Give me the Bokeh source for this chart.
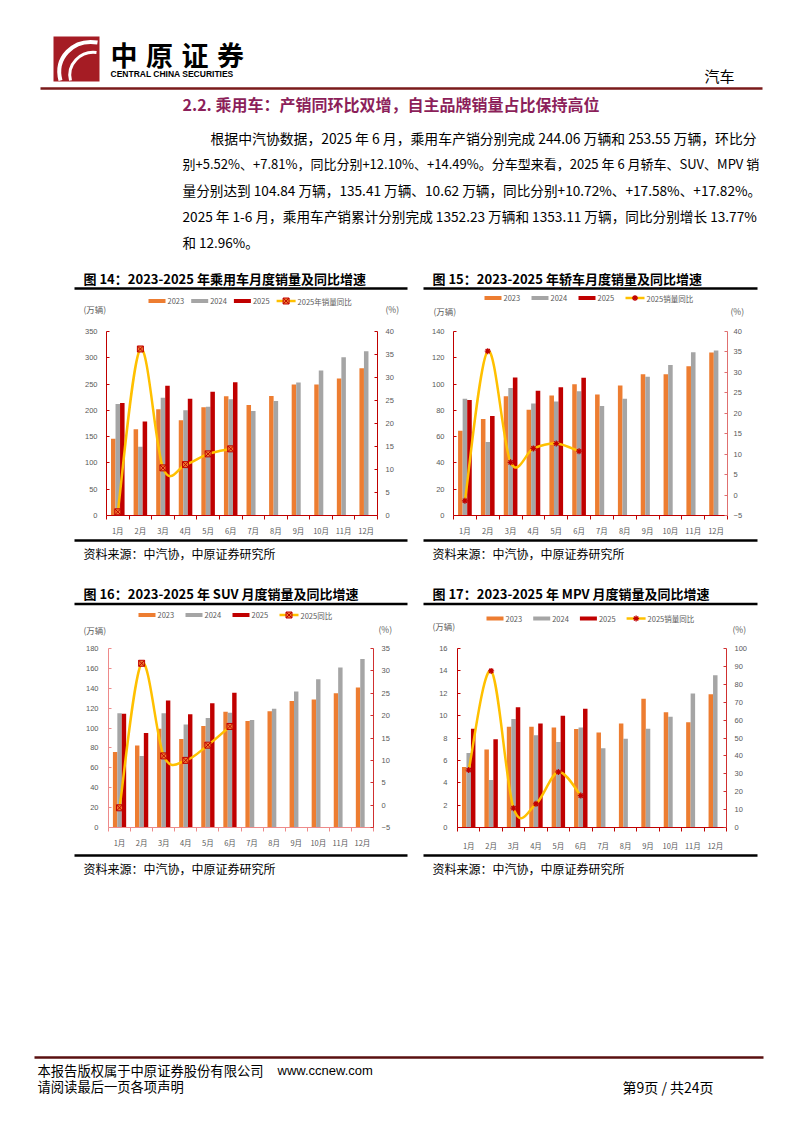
from bokeh.plotting import figure
from bokeh.layouts import column, row
from bokeh.models import Range1d, LinearAxis, FixedTicker, Spacer
from bokeh.transform import dodge
from bokeh.core.properties import value
from bokeh.embed import file_html
from bokeh.resources import INLINE

# ---------------- data ----------------
MONTHS = ["1月", "2月", "3月", "4月", "5月", "6月", "7月", "8月", "9月", "10月", "11月", "12月"]
MONTH_IDX = list(range(1, 13))
MONTH_IDX_2025 = MONTH_IDX[:6]
SERIES = ["2023", "2024", "2025"]

# 图14 乘用车 (万辆, %)
PV_2023 = [146, 164, 202, 181, 206, 227, 210, 227.5, 249, 249, 260.5, 280]
PV_2024 = [212, 131, 224, 200, 207, 221, 199, 218, 253, 276, 301, 312.5]
PV_2025 = [214, 179, 247, 222, 235.5, 253.6]
PV_YOY = [0.8, 36.2, 10.35, 11.06, 13.4, 14.49]

# 图15 轿车
CAR_2023 = [64.5, 73.5, 90.8, 80.5, 91.3, 99.8, 92, 99, 107.5, 107.5, 113.5, 124]
CAR_2024 = [88.8, 56, 97, 85.3, 86.8, 94.5, 83.3, 88.8, 105.5, 114.5, 124.3, 125.5]
CAR_2025 = [87.8, 75.8, 105, 95, 97.5, 104.84]
CAR_YOY = [-1.4, 35.2, 8.0, 11.4, 12.6, 10.72]

# 图16 SUV
SUV_2023 = [75.9, 82.5, 99.3, 89, 102, 116.4, 107.2, 117, 127.3, 128.6, 134.9, 140.8]
SUV_2024 = [115, 72, 115, 103.6, 110.2, 115.5, 108, 119.4, 136.8, 149, 160.9, 169.4]
SUV_2025 = [114.5, 95, 127.6, 114, 125, 135.41]
SUV_YOY = [-0.6, 31.7, 11.0, 10.0, 13.4, 17.58]

# 图17 MPV
MPV_2023 = [5.41, 6.97, 9.0, 9.0, 8.94, 8.8, 8.5, 9.29, 11.5, 10.3, 9.41, 11.9]
MPV_2024 = [6.65, 4.24, 9.7, 8.24, 7.65, 8.94, 7.09, 7.94, 8.82, 9.9, 11.97, 13.6]
MPV_2025 = [8.82, 7.88, 10.75, 9.29, 10.0, 10.62]
MPV_YOY = [32.1, 87.5, 10.8, 13.2, 31.0, 17.82]

C23, C24, C25, CLINE = "#ED7D31", "#A5A5A5", "#C00000", "#FFC000"
CJK_S = "Noto Sans CJK SC"
LAT_S = "Liberation Sans"
CJK = value(CJK_S)
LAT = value(LAT_S)
GRAY = "#595959"
PAGE_W = 794


def page_fig(y0, y1):
    p = figure(width=PAGE_W, height=y1 - y0, x_range=Range1d(0, PAGE_W), y_range=Range1d(y1, y0),
               output_backend="svg", toolbar_location=None, min_border=0,
               x_axis_type=None, y_axis_type=None)
    p.outline_line_color = None
    p.background_fill_color = None
    p.border_fill_color = "white"
    return p


def txt(p, x, y, s, size, color="black", bold=False, font=CJK, align="left"):
    p.text(x=[x], y=[y], text=[s], text_font=font, text_font_size=size, text_color=color,
           text_font_style="bold" if bold else "normal", text_baseline="middle", text_align=align)


def hline(p, x0, x1, y, color="black", w=2.5):
    p.segment(x0=[x0], y0=[y], x1=[x1], y1=[y], line_color=color, line_width=w)


def legend_block(p, x0, y, step, yoy_label, marker, units):
    # legend keys for the chart below (drawn on the page layer)
    for i, (lab, col) in enumerate(zip(SERIES, [C23, C24, C25])):
        xs = x0 + i * step
        p.rect(x=[xs + 8.5], y=[y], width=17, height=4, fill_color=col, line_color=None)
        txt(p, xs + 19, y, lab, "7.5px", color=GRAY)
    xs = x0 + 3 * step
    p.segment(x0=[xs], y0=[y], x1=[xs + 19], y1=[y], line_color=CLINE, line_width=2.5)
    if marker == "square_x":
        p.scatter([xs + 9.5], [y], marker="square_x", size=6, fill_color=C23,
                  line_color="#C00000", line_width=1)
    else:
        p.scatter([xs + 9.5], [y], marker="asterisk", size=6, line_color="#C00000",
                  line_width=1.3)
    txt(p, xs + 21, y, yoy_label, "7.5px", color=GRAY)
    for (ux, uy, s) in units:
        txt(p, ux, uy, s, "8.5px", color=GRAY)


def smooth(xs, ys):
    n = len(xs)
    d = dict(x0=[], y0=[], x1=[], y1=[], cx0=[], cy0=[], cx1=[], cy1=[])
    for i in range(n - 1):
        xa, ya = (xs[i - 1], ys[i - 1]) if i > 0 else (xs[i], ys[i])
        xb, yb = xs[i], ys[i]
        xc, yc = xs[i + 1], ys[i + 1]
        xd, yd = (xs[i + 2], ys[i + 2]) if i + 2 < n else (xc, yc)
        d["x0"].append(xb); d["y0"].append(yb)
        d["x1"].append(xc); d["y1"].append(yc)
        d["cx0"].append(xb + (xc - xa) / 6); d["cy0"].append(yb + (yc - ya) / 6)
        d["cx1"].append(xc - (xd - xb) / 6); d["cy1"].append(yc - (yd - yb) / 6)
    return d


def chart(fig, frame, yl, yr, d23, d24, d25, yoy, marker, lcol, rcol, bcol, std):
    fx0, fy0, fx1, fy1 = fig
    lx0, ly0, lx1, ly1 = frame
    p = figure(width=fx1 - fx0, height=fy1 - fy0, x_range=Range1d(0.5, 12.5),
               y_range=Range1d(yl[0], yl[1]), output_backend="svg", toolbar_location=None,
               min_border_left=lx0 - fx0, min_border_right=fx1 - lx1,
               min_border_top=ly0 - fy0, min_border_bottom=fy1 - ly1,
               x_axis_type=None, y_axis_type=None)
    p.outline_line_color = None
    p.extra_y_ranges = {"pct": Range1d(yr[0], yr[1])}

    xb = LinearAxis(ticker=FixedTicker(ticks=MONTH_IDX, minor_ticks=[i + 0.5 for i in range(13)]),
                    major_label_overrides={i: m for i, m in zip(MONTH_IDX, MONTHS)})
    xb.axis_line_color = bcol
    xb.major_tick_line_color = None
    xb.major_tick_out = 0
    xb.major_tick_in = 0
    xb.minor_tick_line_color = bcol
    xb.minor_tick_out = 4
    xb.minor_tick_in = 0
    xb.major_label_standoff = std[0]
    xb.major_label_text_font = CJK_S
    xb.major_label_text_font_size = "7.5px"
    xb.major_label_text_color = GRAY
    p.add_layout(xb, "below")

    ya = LinearAxis(ticker=FixedTicker(ticks=list(range(yl[0], yl[1] + 1, yl[2]))))
    ya.axis_line_color = lcol
    ya.major_tick_line_color = lcol
    ya.major_tick_in = 3
    ya.major_tick_out = 0
    ya.minor_tick_line_color = None
    ya.major_label_standoff = std[1]
    ya.major_label_text_font = LAT_S
    ya.major_label_text_font_size = "7.5px"
    ya.major_label_text_color = GRAY
    p.add_layout(ya, "left")

    yb = LinearAxis(y_range_name="pct", ticker=FixedTicker(ticks=list(range(yr[0], yr[1] + 1, yr[2]))))
    yb.axis_line_color = rcol
    yb.major_tick_line_color = rcol
    yb.major_tick_in = 3
    yb.major_tick_out = 0
    yb.minor_tick_line_color = None
    yb.major_label_standoff = std[2]
    yb.major_label_text_font = LAT_S
    yb.major_label_text_font_size = "7.5px"
    yb.major_label_text_color = GRAY
    p.add_layout(yb, "right")

    src = dict(x=MONTH_IDX, a=d23, b=d24)
    p.vbar(x=dodge("x", -0.2, range=p.x_range), top="a", width=0.2, source=src,
           fill_color=C23, line_color=None)
    p.vbar(x=dodge("x", 0.0, range=p.x_range), top="b", width=0.2, source=src,
           fill_color=C24, line_color=None)
    src25 = dict(x=MONTH_IDX_2025, c=d25)
    p.vbar(x=dodge("x", 0.2, range=p.x_range), top="c", width=0.2, source=src25,
           fill_color=C25, line_color=None)

    p.bezier(source=smooth(MONTH_IDX_2025, yoy), x0="x0", y0="y0", x1="x1", y1="y1",
             cx0="cx0", cy0="cy0", cx1="cx1", cy1="cy1", line_color=CLINE, line_width=2.5,
             y_range_name="pct")
    if marker == "square_x":
        p.scatter(MONTH_IDX_2025, yoy, marker="square_x", size=6, fill_color=C23,
                  line_color="#C00000", line_width=1, y_range_name="pct")
    else:
        p.scatter(MONTH_IDX_2025, yoy, marker="asterisk", size=6, line_color="#C00000",
                  line_width=1.3, y_range_name="pct")
    return p


# ---------------- page part A (0 -> 324) ----------------
A = page_fig(0, 324)
A.quad(left=[53], right=[99], top=[36], bottom=[81], fill_color="#A51C24", line_color=None)
A.bezier(x0=[60], y0=[80], x1=[97], y1=[42], cx0=[54], cy0=[58], cx1=[72], cy1=[38],
         line_color="white", line_width=4)
A.bezier(x0=[70], y0=[80], x1=[96], y1=[52], cx0=[66], cy0=[64], cx1=[80], cy1=[50],
         line_color="white", line_width=3)
for i, ch in enumerate("中原证券"):
    txt(A, 110 + i * 35.5, 54, ch, "27px", bold=True)
txt(A, 110, 73, "CENTRAL CHINA SECURITIES", "8.5px", bold=True, font=LAT)
txt(A, 704, 75, "汽车", "15px")
hline(A, 40, 762, 88, color="#7A1A1A", w=2.5)
txt(A, 182, 103, "2.2. 乘用车：产销同环比双增，自主品牌销量占比保持高位", "16px",
    color="#8C1F5A", bold=True)
PARA = [
    (210, 137, "13.85px", "根据中汽协数据，2025 年 6 月，乘用车产销分别完成 244.06 万辆和 253.55 万辆，环比分"),
    (182, 163, "13.0px", "别+5.52%、+7.81%，同比分别+12.10%、+14.49%。分车型来看，2025 年 6 月轿车、SUV、MPV 销"),
    (182, 189, "13.65px", "量分别达到 104.84 万辆，135.41 万辆、10.62 万辆，同比分别+10.72%、+17.58%、+17.82%。"),
    (182, 215, "13.65px", "2025 年 1-6 月，乘用车产销累计分别完成 1352.23 万辆和 1353.11 万辆，同比分别增长 13.77%"),
    (182, 241, "13.5px", "和 12.96%。"),
]
for x, y, fs, s in PARA:
    txt(A, x, y, s, fs)
txt(A, 83, 278, "图 14：2023-2025 年乘用车月度销量及同比增速", "13px", bold=True)
txt(A, 432, 278, "图 15：2023-2025 年轿车月度销量及同比增速", "13px", bold=True)
hline(A, 74, 407, 288)
hline(A, 423, 757, 288)
legend_block(A, 148, 300.5, 42.7, "2025年销量同比", "square_x",
             [(83, 308, "(万辆)"), (385, 308, "(%)")])
legend_block(A, 484, 297.5, 47, "2025销量同比", "asterisk",
             [(433, 310.5, "(万辆)"), (730, 310, "(%)")])

# ---------------- charts row 1 (324 -> 538) ----------------
c14 = chart((74, 324, 408, 538), (106, 330, 377, 517), (0, 350, 50), (0, 40, 5),
            PV_2023, PV_2024, PV_2025, PV_YOY, "square_x",
            "#C00000", "#C00000", "#C00000", (5, 9, 8))
c15 = chart((423, 324, 757, 538), (453, 331, 727, 518), (0, 140, 20), (-5, 40, 5),
            CAR_2023, CAR_2024, CAR_2025, CAR_YOY, "asterisk",
            "#C00000", "#E07070", "#C00000", (5, 9, 6))

# ---------------- page part B (538 -> 640) ----------------
B = page_fig(538, 640)
hline(B, 74, 407, 540)
hline(B, 423, 757, 540)
txt(B, 83, 553, "资料来源：中汽协，中原证券研究所", "12px")
txt(B, 432, 553, "资料来源：中汽协，中原证券研究所", "12px")
txt(B, 83, 593, "图 16：2023-2025 年 SUV 月度销量及同比增速", "13px", bold=True)
txt(B, 432, 593, "图 17：2023-2025 年 MPV 月度销量及同比增速", "13px", bold=True)
hline(B, 74, 407, 603.5)
hline(B, 423, 757, 603.5)
legend_block(B, 138, 614.5, 47, "2025同比", "square_x",
             [(83, 629, "(万辆)"), (378, 628, "(%)")])
legend_block(B, 486, 618, 46.7, "2025销量同比", "asterisk",
             [(432, 625, "(万辆)"), (732, 628, "(%)")])

# ---------------- charts row 2 (640 -> 853) ----------------
c16 = chart((74, 640, 408, 853), (108, 647, 373, 829), (0, 180, 20), (-5, 35, 5),
            SUV_2023, SUV_2024, SUV_2025, SUV_YOY, "square_x",
            "#EE8A8A", "#D03030", "#EE8A8A", (5, 10, 8))
c17 = chart((423, 640, 757, 853), (457, 648, 726, 828), (0, 16, 2), (0, 100, 10),
            MPV_2023, MPV_2024, MPV_2025, MPV_YOY, "asterisk",
            "#C00000", "#D03030", "#C00000", (8, 10, 8))

# ---------------- page part C (853 -> 1123) ----------------
C = page_fig(853, 1123)
hline(C, 74, 407, 855)
hline(C, 423, 757, 855)
txt(C, 83, 868, "资料来源：中汽协，中原证券研究所", "12px")
txt(C, 432, 868, "资料来源：中汽协，中原证券研究所", "12px")
hline(C, 34, 763, 1057, color="#5A1010", w=2.5)
txt(C, 37, 1070, "本报告版权属于中原证券股份有限公司", "13.3px")
txt(C, 277, 1070, "www.ccnew.com", "13px", font=LAT)
txt(C, 37, 1086, "请阅读最后一页各项声明", "13.3px")
txt(C, 622, 1086, "第9页 / 共24页", "14px")

layout = column(
    A,
    row(Spacer(width=74, height=214), c14, Spacer(width=15, height=214), c15,
        Spacer(width=37, height=214)),
    B,
    row(Spacer(width=74, height=213), c16, Spacer(width=15, height=213), c17,
        Spacer(width=37, height=213)),
    C,
)

open("out.html", "w").write(file_html(layout, INLINE))
